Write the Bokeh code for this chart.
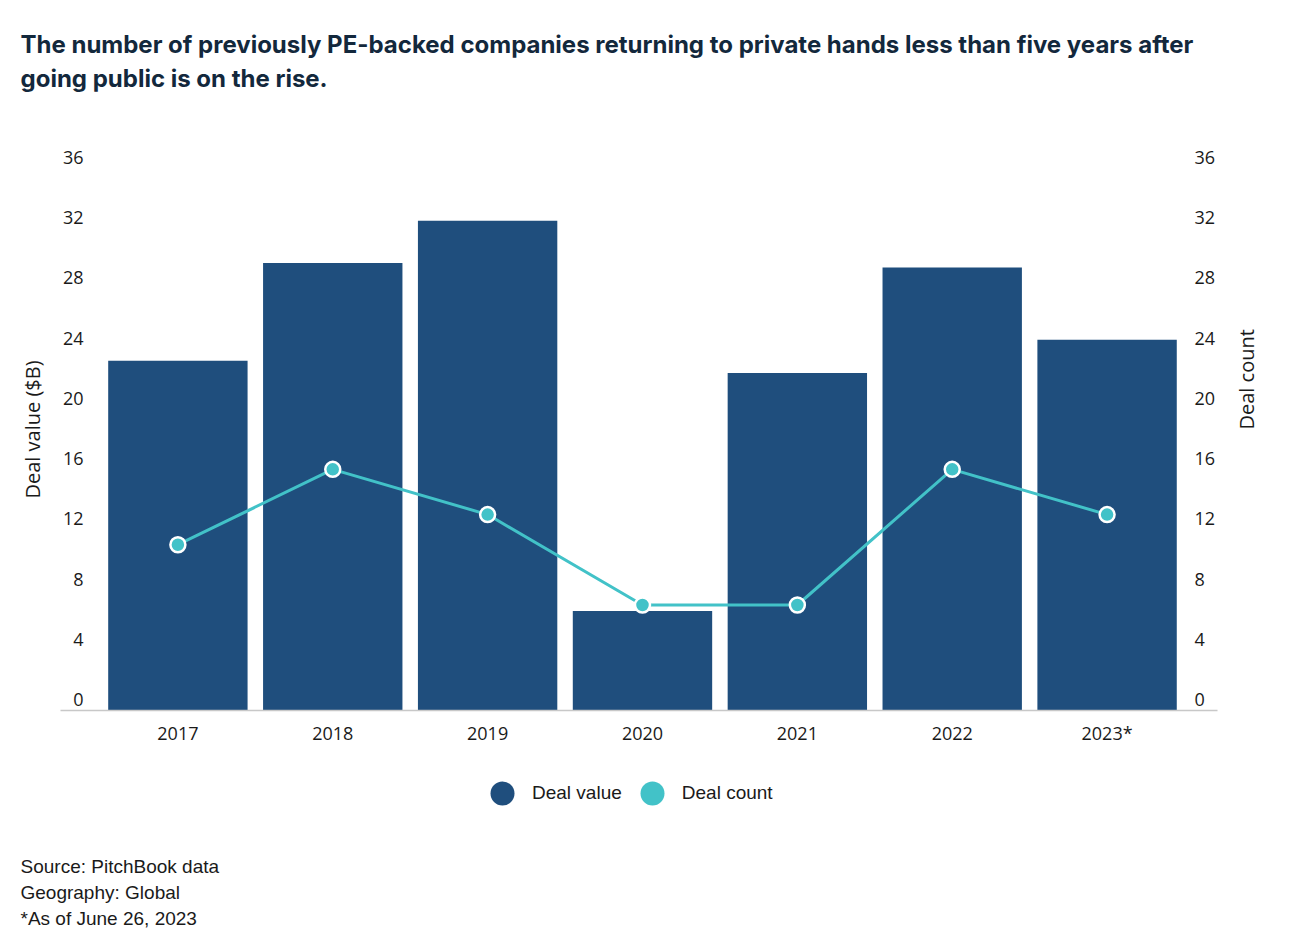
import math
from bokeh.plotting import figure
from bokeh.layouts import column
from bokeh.models import Range1d, LinearAxis, FixedTicker, Legend, LegendItem, Title, ColumnDataSource
from bokeh.embed import file_html
from bokeh.resources import INLINE

# ---- data ----
years = ["2017", "2018", "2019", "2020", "2021", "2022", "2023*"]
deal_value = [23.2, 29.7, 32.5, 6.6, 22.4, 29.4, 24.6]   # $B
deal_count = [11, 16, 13, 7, 7, 16, 13]
y_ticks = [0, 4, 8, 12, 16, 20, 24, 28, 32, 36]

title_lines = [
    "The number of previously PE-backed companies returning to private hands less than five years after",
    "going public  is on the rise.",
]
notes = ["Source: PitchBook data", "Geography: Global", "*As of June 26, 2023"]

NAVY = "#1f4e7d"
TEAL = "#42c2c8"
TXT = "#1a1a1a"

xs = list(range(len(years)))
src = ColumnDataSource(dict(x=xs, year=years, value=deal_value, count=deal_count))

W = 1285
FL, FR = 60, 1217
H_MAIN, H_FOOT = 750, 193

# ---------- main chart ----------
y_end = 37.29
shift = 0.71  # tick labels sit slightly above their gridline

p = figure(width=W, height=H_MAIN, output_backend="svg", toolbar_location=None,
           x_range=Range1d(-0.758, 6.713), y_range=Range1d(0, y_end),
           y_axis_location=None,
           min_border_left=FL, min_border_right=W - FR, min_border_top=148, min_border_bottom=40)
p.outline_line_color = None
p.xgrid.visible = False
p.ygrid.visible = False
p.extra_y_ranges = {"lab": Range1d(-shift, y_end - shift)}

p.vbar(x="x", top="value", width=0.9, source=src, fill_color=NAVY, line_color=None)
p.line(x="x", y="count", source=src, line_color=TEAL, line_width=3)
p.scatter(x="x", y="count", source=src, size=15, fill_color=TEAL, line_color="white", line_width=2.5)

xa = p.xaxis[0]
xa.ticker = FixedTicker(ticks=xs)
xa.major_label_overrides = {i: y for i, y in zip(xs, years)}
xa.axis_line_color = "#c8c8c8"
xa.axis_line_width = 1.5
xa.major_tick_line_color = None
xa.minor_tick_line_color = None
xa.major_tick_out = 0
xa.major_tick_in = 0
xa.major_label_standoff = 10
xa.major_label_text_font = "Open Sans"
xa.major_label_text_font_size = "18px"
xa.major_label_text_color = TXT


def style_y(ax, label, als):
    ax.ticker = FixedTicker(ticks=y_ticks)
    ax.axis_label = label
    ax.axis_line_color = None
    ax.major_tick_line_color = None
    ax.minor_tick_line_color = None
    ax.major_tick_out = 0
    ax.major_tick_in = 0
    ax.major_label_standoff = -23
    ax.major_label_text_font = "Open Sans"
    ax.major_label_text_font_size = "18px"
    ax.major_label_text_color = TXT
    ax.axis_label_text_font = "Open Sans"
    ax.axis_label_text_font_size = "20px"
    ax.axis_label_text_font_style = "normal"
    ax.axis_label_text_color = TXT
    ax.axis_label_standoff = als


ly = LinearAxis(y_range_name="lab")
style_y(ly, "Deal value ($B)", 14)
p.add_layout(ly, "left")
ry = LinearAxis(y_range_name="lab")
style_y(ry, "Deal count", 28)
ry.axis_label_orientation = -1.5 * math.pi
p.add_layout(ry, "right")

# spacer between frame and the title lines, then title lines (nearest-first)
p.add_layout(Title(text=" ", text_font_size="10px", standoff=41), "above")
for t in (title_lines[1], title_lines[0]):
    p.add_layout(Title(text=t, align="left", offset=20 - FL, standoff=3,
                       text_font="Inter", text_font_style="bold", text_font_size="24px",
                       text_color="#13283c"), "above")

# ---------- footer: legend + notes ----------
FOOT_FRAME_H = 102
foot = figure(width=W, height=H_FOOT, output_backend="svg", toolbar_location=None,
              x_range=Range1d(-0.758, 6.713), y_range=Range1d(0, y_end),
              x_axis_location=None, y_axis_location=None,
              min_border_left=FL, min_border_right=W - FR, min_border_top=0,
              min_border_bottom=H_FOOT - FOOT_FRAME_H)
foot.outline_line_color = None
foot.xgrid.visible = False
foot.ygrid.visible = False
lg_v = foot.scatter(x="x", y="value", source=src, marker="circle", fill_color=NAVY, line_color=None)
lg_c = foot.scatter(x="x", y="count", source=src, marker="circle", fill_color=TEAL, line_color=None)
lg_v.visible = False
lg_c.visible = False
legend = Legend(items=[LegendItem(label="Deal value", renderers=[lg_v]),
                       LegendItem(label="Deal count", renderers=[lg_c])],
                orientation="horizontal", location=(472 - FL, FOOT_FRAME_H - 73),
                glyph_width=60, glyph_height=60, label_standoff=0, spacing=0,
                padding=0, margin=0, border_line_color=None, background_fill_alpha=0,
                inactive_fill_alpha=0,
                label_text_font="Liberation Sans", label_text_font_size="19px",
                label_text_color=TXT, label_text_baseline="middle")
foot.add_layout(legend, "center")

for t in notes:
    foot.add_layout(Title(text=t, align="left", offset=20 - FL, standoff=3,
                          text_font="Liberation Sans", text_font_size="19px",
                          text_font_style="normal", text_color=TXT), "below")

layout = column(p, foot, spacing=0)
open("out.html", "w").write(file_html(layout, INLINE))
